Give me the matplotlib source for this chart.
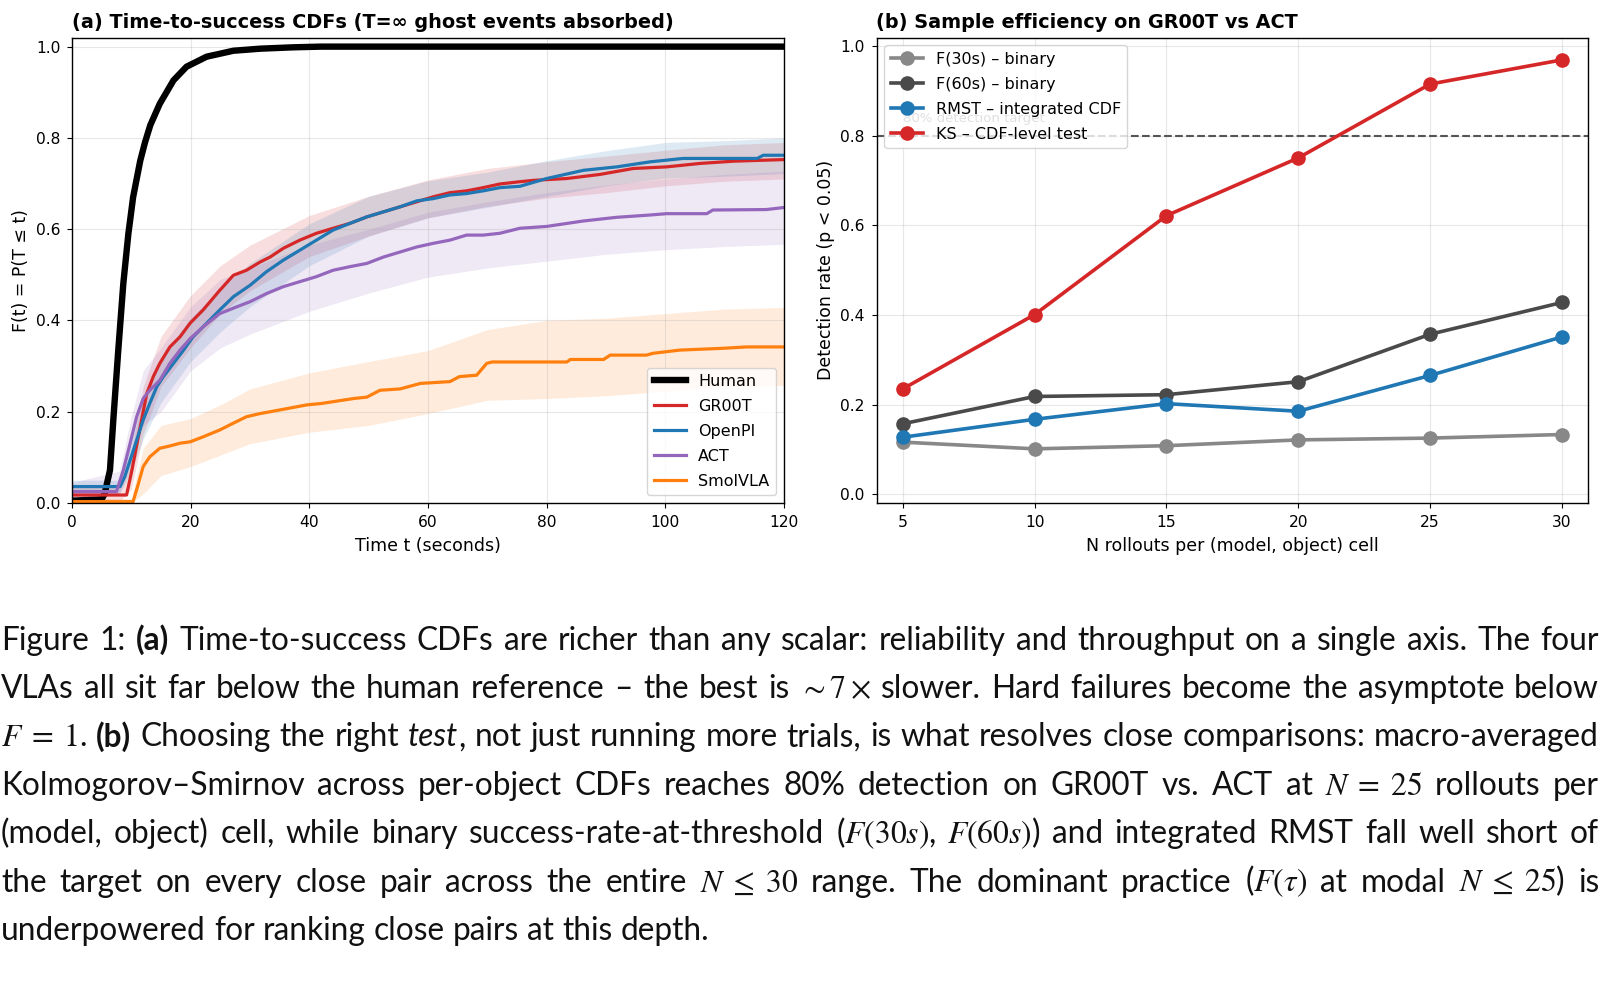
import re
import numpy as np
import matplotlib
matplotlib.use("Agg")
import matplotlib.pyplot as plt

plt.rcParams.update({
    "font.family": "DejaVu Sans",
    "mathtext.fontset": "stix",
    "axes.linewidth": 1.0,
})

# ---- panel (a): time-to-success CDFs, knots ----
t_human = [0, 5.0, 5.5, 6.4, 7.0, 7.8, 8.65, 9.5, 10.3, 11.5, 12.3, 13.2, 14.8, 17.1, 19.3, 22.7, 27.2, 31.7, 37.3, 42, 120]
F_human = [0.005, 0.008, 0.02, 0.072, 0.189, 0.335, 0.481, 0.59, 0.67, 0.75, 0.79, 0.828, 0.875, 0.926, 0.956, 0.978, 0.991, 0.9955, 0.9985, 1.0, 1.0]

t_groot = [0, 9.2, 10.1, 11.5, 12.6, 13.7, 14.8, 16.5, 18.2, 19.9, 22.1, 24.9, 27.2, 29.4, 31.7, 33.4, 35.6, 38.4, 41.2, 44,
           46.9, 49.7, 52.5, 55.3, 58.1, 60.9, 63.7, 66.5, 69.3, 72.1, 75.5, 77.8, 83.4, 89, 94.6, 100.2, 105.8, 111.5, 120]
F_groot = [0.0175, 0.0175, 0.072, 0.167, 0.24, 0.277, 0.306, 0.342, 0.364, 0.394, 0.423, 0.466, 0.499, 0.51, 0.528, 0.539, 0.558, 0.576, 0.591, 0.602,
           0.613, 0.627, 0.638, 0.649, 0.66, 0.671, 0.68, 0.684, 0.691, 0.699, 0.704, 0.707, 0.711, 0.72, 0.733, 0.7365, 0.744, 0.749, 0.7525]

t_openpi = [0, 8.1, 8.9, 9.8, 10.9, 12.0, 13.1, 14.3, 15.4, 17.1, 18.8, 20.4, 22.7, 24.9, 27.2, 30, 32.8, 35.6, 38.4, 41.2, 44,
            46.9, 49.7, 52.5, 55.3, 58.1, 60.9, 63.7, 66.5, 69.3, 72.1, 75.5, 80, 86.2, 91.8, 97.4, 103, 115.5, 116.5, 120]
F_openpi = [0.036, 0.036, 0.058, 0.094, 0.138, 0.182, 0.218, 0.255, 0.277, 0.306, 0.335, 0.364, 0.394, 0.423, 0.452, 0.477, 0.507, 0.532, 0.554, 0.576, 0.598,
            0.613, 0.627, 0.638, 0.649, 0.662, 0.667, 0.675, 0.678, 0.684, 0.691, 0.694, 0.711, 0.729, 0.7365, 0.7475, 0.755, 0.755, 0.762, 0.762]

t_act = [0, 7.5, 8.65, 9.8, 10.9, 12.0, 13.1, 14.8, 16.5, 18.2, 19.9, 22.1, 24.9, 27.8, 30, 32.8, 35.6, 38.4, 41.2, 44,
         46.9, 49.7, 52.5, 55.3, 58.1, 60.9, 63.7, 66.5, 69.3, 72.1, 75.5, 80, 86.2, 91.8, 97.4, 100.2, 107, 108, 117, 120]
F_act = [0.025, 0.025, 0.072, 0.131, 0.189, 0.229, 0.247, 0.269, 0.306, 0.335, 0.36, 0.386, 0.415, 0.43, 0.441, 0.459, 0.474, 0.485, 0.496, 0.51,
         0.518, 0.525, 0.539, 0.55, 0.561, 0.569, 0.576, 0.587, 0.587, 0.591, 0.602, 0.606, 0.618, 0.626, 0.631, 0.634, 0.634, 0.642, 0.643, 0.6475]

t_smol = [0, 10.3, 11.2, 12.0, 13.1, 14.8, 16.5, 18.2, 19.9, 22.1, 24.9, 27.2, 29.4, 31.7, 33.4, 39.6, 42, 47.5, 49.7, 51.9,
          55.3, 58.7, 63.7, 65.3, 68.2, 69.9, 70.8, 83.4, 84, 89.6, 90.7, 96.8, 97.9, 102.4, 109.7, 113.7, 120]
F_smol = [0.003, 0.003, 0.043, 0.08, 0.101, 0.12, 0.125, 0.131, 0.134, 0.145, 0.16, 0.175, 0.189, 0.196, 0.2, 0.215, 0.218, 0.229, 0.232, 0.247,
          0.25, 0.262, 0.266, 0.277, 0.28, 0.306, 0.309, 0.309, 0.3145, 0.3145, 0.324, 0.324, 0.328, 0.335, 0.339, 0.342, 0.342]

# confidence bands (read at coarse times)
t_band = [0, 8, 10, 12, 15, 20, 25, 30, 40, 50, 60, 70, 80, 90, 100, 110, 120]
lo_groot = [0.003, 0.003, 0.03, 0.15, 0.255, 0.34, 0.415, 0.465, 0.54, 0.585, 0.625, 0.65, 0.668, 0.68, 0.695, 0.705, 0.71]
hi_groot = [0.035, 0.035, 0.11, 0.255, 0.365, 0.455, 0.52, 0.565, 0.63, 0.672, 0.708, 0.733, 0.748, 0.76, 0.773, 0.785, 0.79]
lo_openpi = [0.02, 0.02, 0.07, 0.14, 0.22, 0.31, 0.375, 0.43, 0.52, 0.585, 0.625, 0.648, 0.672, 0.695, 0.712, 0.716, 0.722]
hi_openpi = [0.05, 0.05, 0.135, 0.225, 0.32, 0.405, 0.47, 0.525, 0.612, 0.672, 0.706, 0.725, 0.75, 0.772, 0.79, 0.794, 0.8]
lo_act = [0.01, 0.02, 0.09, 0.17, 0.2, 0.29, 0.34, 0.37, 0.42, 0.46, 0.495, 0.515, 0.53, 0.545, 0.555, 0.562, 0.567]
hi_act = [0.045, 0.07, 0.19, 0.29, 0.34, 0.43, 0.49, 0.515, 0.565, 0.6, 0.637, 0.66, 0.68, 0.697, 0.71, 0.72, 0.727]
lo_smol = [0, 0, 0, 0.02, 0.06, 0.08, 0.105, 0.13, 0.155, 0.17, 0.196, 0.225, 0.229, 0.235, 0.245, 0.255, 0.258]
hi_smol = [0.01, 0.01, 0.01, 0.12, 0.17, 0.185, 0.215, 0.25, 0.285, 0.31, 0.334, 0.38, 0.4, 0.405, 0.415, 0.425, 0.4285]

# ---- panel (b): detection rate vs N ----
n_rollouts = [5, 10, 15, 20, 25, 30]
det_f30 = [0.116, 0.101, 0.108, 0.121, 0.125, 0.133]
det_f60 = [0.157, 0.218, 0.222, 0.251, 0.357, 0.428]
det_rmst = [0.127, 0.167, 0.202, 0.185, 0.265, 0.351]
det_ks = [0.235, 0.401, 0.622, 0.751, 0.916, 0.970]

C_RED, C_BLUE, C_PURP, C_ORNG = "#d62728", "#1f77b4", "#9467bd", "#ff7f0e"

W, H = 1600, 998
fig = plt.figure(figsize=(W / 100, H / 100), dpi=100)
ax1 = fig.add_axes([72 / W, 1 - 503 / H, 712 / W, 465.5 / H])
ax2 = fig.add_axes([876.5 / W, 1 - 503 / H, 711.8 / W, 465.5 / H])

# (a)
ax1.plot(t_human, F_human, color="black", lw=4.6, label="Human")
series = [("GR00T", t_groot, F_groot, lo_groot, hi_groot, C_RED),
          ("OpenPI", t_openpi, F_openpi, lo_openpi, hi_openpi, C_BLUE),
          ("ACT", t_act, F_act, lo_act, hi_act, C_PURP),
          ("SmolVLA", t_smol, F_smol, lo_smol, hi_smol, C_ORNG)]
for name, t, F, lo, hi, col in series:
    ax1.fill_between(t_band, lo, hi, color=col, alpha=0.15, lw=0)
    ax1.plot(t, F, color=col, lw=2.3, label=name)
ax1.set_xlim(0, 120)
ax1.set_ylim(0, 1.02)
ax1.set_xlabel("Time t (seconds)", fontsize=12.5, labelpad=5)
ax1.set_ylabel("F(t) = P(T \u2264 t)", fontsize=12.5)
ax1.set_title("(a) Time-to-success CDFs (T=\u221e ghost events absorbed)", loc="left",
              fontweight="bold", fontsize=13.9, pad=7)
ax1.tick_params(labelsize=11.2, pad=5)
ax1.grid(True, alpha=0.3)
ax1.legend(loc="lower right", fontsize=11.5, labelspacing=0.62)

# (b)
ax2.axhline(0.8, color="#555555", ls="--", lw=1.5)
ax2.text(5, 0.838, "80% detection target", color="#666666", fontsize=9.5, va="center")
ax2.plot(n_rollouts, det_f30, "-o", color="#888888", lw=2.6, ms=9.5, label="F(30s) \u2013 binary")
ax2.plot(n_rollouts, det_f60, "-o", color="#4a4a4a", lw=2.6, ms=9.5, label="F(60s) \u2013 binary")
ax2.plot(n_rollouts, det_rmst, "-o", color=C_BLUE, lw=2.6, ms=9.5, label="RMST \u2013 integrated CDF")
ax2.plot(n_rollouts, det_ks, "-o", color=C_RED, lw=2.6, ms=9.5, label="KS \u2013 CDF-level test")
ax2.set_xticks(n_rollouts)
ax2.set_xlim(4, 31)
ax2.set_ylim(-0.02, 1.02)
ax2.set_yticks([0, 0.2, 0.4, 0.6, 0.8, 1.0])
ax2.set_xlabel("N rollouts per (model, object) cell", fontsize=12.5, labelpad=5)
ax2.set_ylabel("Detection rate (p < 0.05)", fontsize=12.5)
ax2.set_title("(b) Sample efficiency on GR00T vs ACT", loc="left", fontweight="bold", fontsize=13.9, pad=7)
ax2.tick_params(labelsize=11.2, pad=5)
ax2.grid(True, alpha=0.3)
ax2.legend(loc="upper left", fontsize=11.5, labelspacing=0.62)

# ---- caption, justified word by word ----
caption_lines = [
    "Figure 1: **(a)** Time-to-success CDFs are richer than any scalar: reliability and throughput on a single axis. The four",
    "VLAs all sit far below the human reference \u2013 the best is $\\sim7\\times$ slower. Hard failures become the asymptote below",
    "$F\\;=\\;1$. **(b)** Choosing the right *test*, not just running more trials, is what resolves close comparisons: macro-averaged",
    "Kolmogorov\u2013Smirnov across per-object CDFs reaches 80% detection on GR00T vs. ACT at $N\\;=\\;25$ rollouts per",
    "(model, object) cell, while binary success-rate-at-threshold ($F(30s)$, $F(60s)$) and integrated RMST fall well short of",
    "the target on every close pair across the entire $N\\;\\leq\\;30$ range. The dominant practice ($F(\\tau)$ at modal $N\\;\\leq\\;25$) is",
    "underpowered for ranking close pairs at this depth.",
]
baselines = [650, 698, 746.5, 795, 843, 891.5, 940]
CAP_FONT = "Lato"
renderer = fig.canvas.get_renderer()


def segments(word):
    out = []
    for part in re.split(r"(\*\*[^*]+\*\*|\*[^*]+\*)", word):
        if not part:
            continue
        if part.startswith("**"):
            out.append((part[2:-2], "bold", "normal"))
        elif part.startswith("*"):
            out.append((part[1:-1], "normal", "italic"))
        else:
            out.append((part, "normal", "normal"))
    return out


def make_word(word, fs):
    arts = []
    for s, wt, st in segments(word):
        arts.append(fig.text(0, 0, s, fontsize=fs, family=CAP_FONT, weight=wt, style=st,
                             va="baseline", ha="left", color="#111111"))
    return arts


def width(arts):
    return sum(a.get_window_extent(renderer).width for a in arts)


# calibrate the font size on the last (unjustified) line
probe = make_word("underpowered for ranking close pairs at this depth.", 20)
fs = 20 * 709 / width(probe)
for a in probe:
    a.remove()
sp = make_word("x x", fs)
sp2 = make_word("xx", fs)
space_w = width(sp) - width(sp2)
for a in sp + sp2:
    a.remove()

x0, x1 = 1.0, 1599.0
for i, (line, yb) in enumerate(zip(caption_lines, baselines)):
    words = [make_word(w, fs) for w in line.split(" ")]
    widths = [width(w) for w in words]
    if i < len(caption_lines) - 1:
        gap = (x1 - x0 - sum(widths)) / (len(words) - 1)
    else:
        gap = space_w
    x = x0
    for arts, w in zip(words, widths):
        xx = x
        for a in arts:
            a.set_position((xx / W, 1 - yb / H))
            xx += a.get_window_extent(renderer).width
        x += w + gap

fig.savefig("out.png", dpi=100)
